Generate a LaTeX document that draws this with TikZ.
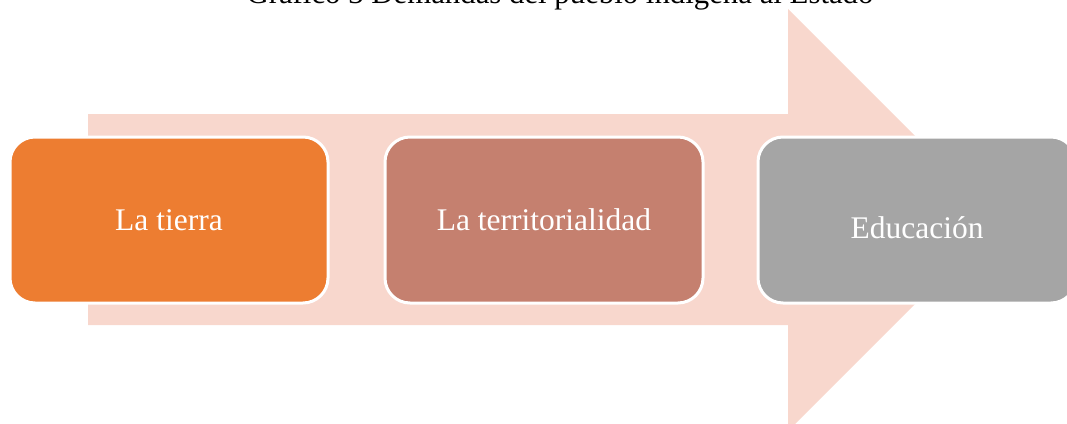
\documentclass[tikz,border=0pt]{standalone}
\usepackage{fontspec}
\setmainfont{Liberation Serif}
\usetikzlibrary{positioning}
\definecolor{tierra}{HTML}{ED7D31}
\definecolor{territorio}{HTML}{C5806F}
\definecolor{educacion}{HTML}{A5A5A5}
\definecolor{flecha}{HTML}{F8D7CD}

\begin{document}
\begin{tikzpicture}[x=1pt,y=-1pt,
    every node/.style={font=\fontsize{31.5}{36}\selectfont},
    demand/.style={draw=white,line width=3pt,rounded corners=25pt,minimum width=318pt,minimum height=166pt,inner sep=0pt,text=white},
    band/.style={fill=flecha,draw=none}
]
\useasboundingbox (0,0) rectangle (1067,423);
\clip (0,0) rectangle (1067,423);

% Title, cut by the top edge
\node[anchor=base,font=\fontsize{30.8}{36}\selectfont] (title) at (560,4) {Gráfico 3 Demandas del pueblo indígena al Estado};

% Background arrow
\path[band] (88,114) -- (788,114) -- (788,9) -- (999,220) -- (788,431) -- (788,325) -- (88,325) -- cycle;

% Three demands
\node[demand,fill=tierra]     (tierra)     at (169,220) {La tierra};
\node[demand,fill=territorio] (territorio) at (544,220) {La territorialidad};
\node[demand,fill=educacion]  (educacion)  at (917,220) {\raisebox{-8pt}[\height][\depth]{Educación}};
\end{tikzpicture}
\end{document}
